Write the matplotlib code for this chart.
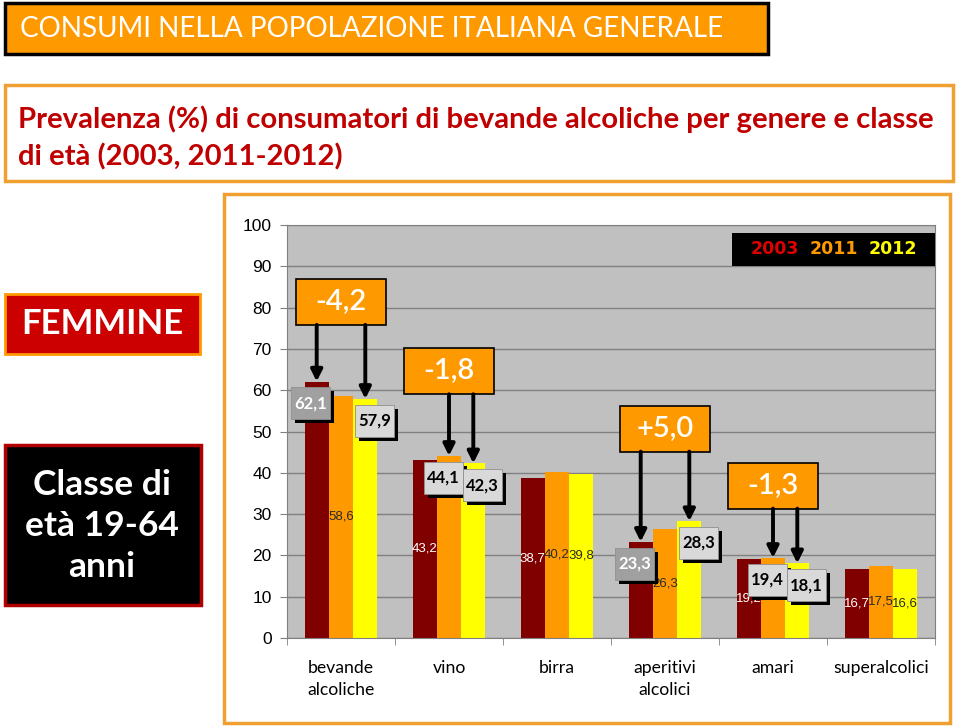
import numpy as np
import matplotlib
matplotlib.use("Agg")
import matplotlib.pyplot as plt
from matplotlib.patches import Rectangle

# data
categories = ["bevande\nalcoliche", "vino", "birra", "aperitivi\nalcolici", "amari", "superalcolici"]
years = ["2003", "2011", "2012"]
v2003 = [62.1, 43.2, 38.7, 23.3, 19.2, 16.7]
v2011 = [58.6, 44.1, 40.2, 26.3, 19.4, 17.5]
v2012 = [57.9, 42.3, 39.8, 28.3, 18.1, 16.6]
# (category, from series, to series) highlighted with a difference box
comparisons = [(0, 0, 2), (1, 1, 2), (3, 0, 2), (4, 1, 2)]
# how far above the taller compared bar each difference box sits (layout)
box_lift = [19.3, 20.5, 22.4, 17.5]

bar_colors = ["#800000", "#FF9900", "#FFFF00"]
legend_colors = ["#E00000", "#FF9900", "#FFFF00"]
series = [v2003, v2011, v2012]

W, H = 960, 726
fig = plt.figure(figsize=(W / 100, H / 100), dpi=100)
plt.rcParams["font.family"] = ["Lato", "DejaVu Sans"]


def frac(x0, y0, x1, y1):
    return (x0 / W, 1 - y1 / H, (x1 - x0) / W, (y1 - y0) / H)


def fig_box(x0, y0, x1, y1, fc, ec, lw):
    l, b, w, h = frac(x0, y0, x1, y1)
    fig.patches.append(Rectangle((l, b), w, h, transform=fig.transFigure,
                                 facecolor=fc, edgecolor=ec, linewidth=lw, zorder=-2))


# header boxes
fig_box(5, 3, 768, 54, "#FF9900", "black", 2.5)
fig.text(20 / W, 1 - 29 / H, "CONSUMI NELLA POPOLAZIONE ITALIANA GENERALE",
         color="white", fontsize=20.1, va="center", ha="left")

fig_box(5, 85, 953, 181, "white", "#F0A030", 2.5)
fig.text(18 / W, 1 - 119 / H, "Prevalenza (%) di consumatori di bevande alcoliche per genere e classe",
         color="#C00000", fontsize=21.1, fontweight="bold", va="center", ha="left")
fig.text(18 / W, 1 - 157 / H, "di età (2003, 2011-2012)",
         color="#C00000", fontsize=21.1, fontweight="bold", va="center", ha="left")

fig_box(224, 194, 950, 723, "white", "#F0A030", 2.5)

fig_box(5, 294, 200, 354, "#CC0000", "#FF9900", 2)
fig.text(102 / W, 1 - 324 / H, "FEMMINE", color="white", fontsize=25,
         fontweight="bold", ha="center", va="center")

fig_box(5, 445, 201, 605, "black", "#B00000", 2.5)
fig.text(102 / W, 1 - 526 / H, "Classe di\netà 19-64\nanni", color="white", fontsize=25.5,
         fontweight="bold", ha="center", va="center", linespacing=1.33)

# chart
ax = fig.add_axes(frac(287, 225, 935, 638))
ax.set_facecolor("#C0C0C0")
x = np.arange(len(categories))
bw = 0.225
offsets = [-bw, 0, bw]

for s, vals in enumerate(series):
    ax.bar(x + offsets[s], vals, bw, color=bar_colors[s], zorder=2)

ax.set_xlim(-0.5, len(categories) - 0.5)
ax.set_ylim(0, 100)
ax.set_yticks(range(0, 101, 10))
ax.set_yticklabels([str(v) for v in range(0, 101, 10)], family="Liberation Sans", fontsize=12.5)
ax.yaxis.grid(True, color="#808080", linewidth=1, zorder=0)
ax.set_axisbelow(True)
ax.set_xticks(x)
ax.set_xticklabels(categories, fontsize=12.7, linespacing=1.45)
ax.set_xticks(np.arange(-0.5, len(categories)), minor=True)
ax.tick_params(axis="x", which="major", length=0, pad=16)
ax.tick_params(axis="x", which="minor", length=5, color="#808080")
ax.tick_params(axis="y", length=5, color="#808080", pad=6)
for sp in ax.spines.values():
    sp.set_color("#808080")

# px -> data helpers
ppx = 648 / len(categories)
ppy = 413 / 100

boxed = set()
for cat, a, b in comparisons:
    boxed.add((cat, a))
    boxed.add((cat, b))

# centre data labels
for s, vals in enumerate(series):
    for i, v in enumerate(vals):
        if (i, s) in boxed:
            continue
        ax.text(x[i] + offsets[s], v / 2, f"{v:.1f}".replace(".", ","),
                ha="center", va="center", fontsize=9.5, family="Liberation Sans",
                color="white" if s == 0 else "#2a2a2a", zorder=4)

# value boxes and difference boxes
vbw, vbh = 39 / ppx, 32 / ppy
shx, shy = 4 / ppx, 4 / ppy
for n, (cat, a, b) in enumerate(comparisons):
    top = max(series[a][cat], series[b][cat])
    cy = top + box_lift[n]
    dw, dh = 90 / ppx, 46 / ppy
    ax.add_patch(Rectangle((x[cat] - dw / 2, cy - dh / 2), dw, dh, facecolor="#FF9900",
                           edgecolor="black", linewidth=1.2, zorder=6))
    d = series[b][cat] - series[a][cat]
    ax.text(x[cat], cy, f"{d:+.1f}".replace(".", ","), color="white", fontsize=21,
            fontweight="semibold", ha="center", va="center", zorder=7)
    for k, s in enumerate((a, b)):
        bx = x[cat] + offsets[s]
        v = series[s][cat]
        ax.annotate("", xy=(bx, v), xytext=(bx, cy - dh / 2),
                    arrowprops=dict(arrowstyle="-|>", color="black", lw=2.8,
                                    mutation_scale=17, shrinkA=0, shrinkB=0), zorder=8)
        cx = bx + (-6 / ppx if k == 0 else 9 / ppx)
        yc = v - 5.3
        dark = s == 0
        ax.add_patch(Rectangle((cx - vbw / 2 + shx, yc - vbh / 2 - shy), vbw, vbh,
                               facecolor="black", edgecolor="none", zorder=8))
        ax.add_patch(Rectangle((cx - vbw / 2, yc - vbh / 2), vbw, vbh,
                               facecolor="#A0A0A0" if dark else "#D9D9D9",
                               edgecolor="#909090", linewidth=0.6, zorder=9))
        ax.text(cx, yc, f"{v:.1f}".replace(".", ","), color="white" if dark else "black",
                fontsize=12, fontweight="bold", ha="center", va="center", zorder=10)

# legend
lx0, lx1 = (732 - 287) / ppx - 0.5, (935 - 287) / ppx - 0.5
ly0, ly1 = (638 - 266) / ppy, (638 - 233) / ppy
ax.add_patch(Rectangle((lx0, ly0), lx1 - lx0, ly1 - ly0, facecolor="black",
                       edgecolor="none", zorder=5))
for k, yr in enumerate(years):
    ax.text(lx0 + (43 + 59 * k) / ppx, (ly0 + ly1) / 2, yr, color=legend_colors[k],
            fontsize=12.5, fontweight="heavy", family="DejaVu Sans", ha="center",
            va="center", zorder=6)

fig.savefig("out.png", dpi=100)
